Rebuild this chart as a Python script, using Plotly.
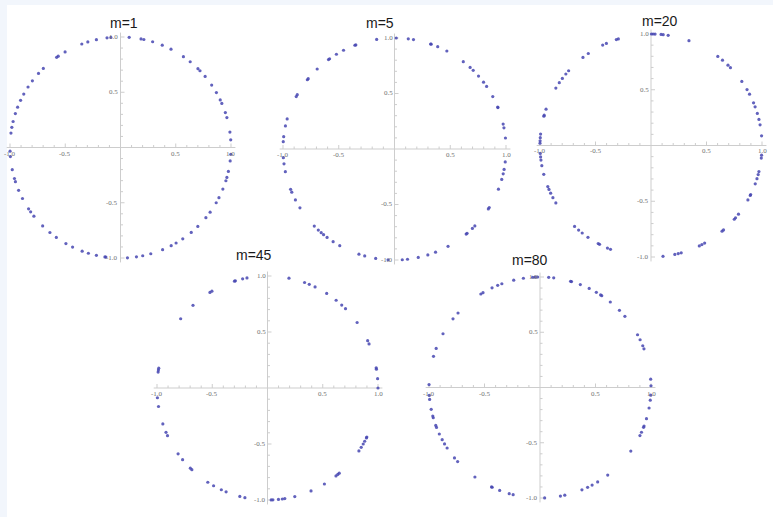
import math
import plotly.graph_objects as go

# ---------------- data (angles in degrees of each point on the unit circle)
TITLES = ["m=1", "m=5", "m=20", "m=45", "m=80"]

ANGLES_M1 = [4, 8, 15.7, 18.4, 23.5, 25.5, 29.8, 34.4, 40, 44, 45.5, 50.9, 55.3, 62.8,
             67.8, 73.1, 77.8, 79.3, 85.5, 95, 97, 102.6, 107.2, 110.5, 120.1, 124.3,
             125.3, 134.3, 137.9, 142.9, 146.8, 151.1, 154.7, 158.6, 162.1, 166.4, 169.5,
             172.5, 181.9, 184.7, 191.6, 196.3, 198, 202.8, 207.5, 213.7, 215.6, 218.4,
             225.2, 230.3, 234.5, 240.4, 244.3, 249.7, 253.1, 257.4, 261.9, 262.4, 273.6,
             278.3, 281.6, 285.9, 292.4, 297.3, 300.2, 304.3, 309.8, 314.4, 320.6, 324.2,
             330, 333, 337.9, 342.5, 344.3, 347.5, 353, 356.5]

ANGLES_M5 = [5.7, 11, 13, 21.9, 22.2, 28.2, 34.3, 37, 41.1, 45.1, 47.3, 51.9, 62, 67.2,
             70.8, 71.1, 80.2, 82.9, 89.1, 99.2, 110.3, 110.8, 117.2, 121.4, 125.6, 126.3,
             133.9, 140.7, 141.4, 150.7, 151.8, 164.3, 168, 173.6, 176.2, 184.5, 187.7,
             191.8, 201.3, 202.9, 207.3, 212, 224, 226.9, 228.9, 230.5, 232.8, 236.6,
             240.6, 251.4, 254.5, 260.3, 266.7, 274, 276.7, 282.3, 287.4, 291.6, 298.7,
             310, 310.6, 314.3, 316.1, 327.3, 328.2, 338.8, 344.1, 347.1, 349.4, 353.3]

ANGLES_M20 = [5, 10.7, 13.5, 16.7, 20.3, 22.5, 27.4, 30.1, 35.1, 44.3, 46.1, 49.9, 53, 70,
              81.1, 83.7, 84.8, 87.9, 88.9, 89.8, 107.1, 108.2, 113.7, 115.8, 124.4, 127.8,
              137.9, 140.1, 143, 145.7, 149, 161, 164.2, 164.8, 174.1, 176, 177.6, 178.8,
              184.1, 185.9, 187.5, 190.4, 195, 201.6, 203.2, 205.3, 207.9, 211, 226.5,
              229.3, 231.7, 235.4, 241.6, 242.4, 246.9, 248.6, 276.2, 282.4, 284.2, 285.8,
              295.8, 297.3, 298.9, 309.8, 310.8, 318.6, 319.6, 322, 330.8, 333.4, 333.9,
              339.9, 342.7, 344.9, 346.5, 353.5, 355]

ANGLES_M45 = [0, 4.8, 9.7, 10.4, 23.2, 25, 35.8, 45.1, 47.8, 51.6, 57.6, 64.5, 67.8, 70.4,
              78.8, 100.7, 103, 106.9, 107.4, 120.2, 121.4, 132.4, 141.8, 169.8, 170.8,
              171.8, 185, 189.5, 198.7, 203.3, 205.2, 216, 219.8, 225.7, 226.8, 237.3,
              240.8, 245.3, 248, 255.5, 258.2, 271.9, 272.8, 275.7, 277.7, 279, 284.3,
              293.2, 301, 308.3, 309.5, 310.5, 325.8, 328, 330, 331.6, 333.5, 334]

ANGLES_M80 = [0.9, 4.3, 20.5, 22.2, 25.6, 28.5, 40.1, 44.3, 50.7, 56.2, 56.9, 59.5, 63.7,
              68.7, 73.5, 74, 82.9, 85.5, 91.2, 92.6, 93.8, 98.6, 103.7, 110.1, 112.4,
              115.6, 120.9, 122.2, 137.6, 141.6, 150.9, 159.3, 163.6, 178.5, 184.1, 186.2,
              191.4, 195, 195.9, 200.1, 201.2, 204.9, 208.2, 210.7, 213.2, 219.6, 222.1,
              234.1, 244.1, 244.5, 248.7, 253.9, 256, 272.4, 280.6, 282.9, 292.2, 295.4,
              298, 301.3, 307.6, 324.9, 334.2, 336.1, 338.9, 339.6, 343.6, 349.3, 353.4, 356]

ALL_ANGLES = [ANGLES_M1, ANGLES_M5, ANGLES_M20, ANGLES_M45, ANGLES_M80]

TICK_MAJOR = [-1.0, -0.5, 0.5, 1.0]
TICK_LABELS = ["-1.0", "-0.5", "0.5", "1.0"]
TICK_MINOR = [-0.9, -0.8, -0.7, -0.6, -0.4, -0.3, -0.2, -0.1,
              0.1, 0.2, 0.3, 0.4, 0.6, 0.7, 0.8, 0.9]

# ---------------- layout geometry (pixels)
W, H = 773, 517
PANELS = [
    dict(ox=120.5, oy=147.5, sx=110.5, sy=110.5, tx=123.5, ty=22.5),
    dict(ox=394.5, oy=149.0, sx=111.5, sy=111.0, tx=379.5, ty=22.5),
    dict(ox=651.0, oy=145.5, sx=111.0, sy=111.5, tx=659.5, ty=21.5),
    dict(ox=267.5, oy=388.0, sx=110.5, sy=112.0, tx=254.0, ty=255),
    dict(ox=540.0, oy=387.5, sx=111.0, sy=110.5, tx=530.0, ty=259.5),
]
R = 1.06
DOT = "rgba(70,70,178,0.85)"
AXC = "#cdcdcd"
LBL = "#707070"

fig = go.Figure()
layout = dict(
    width=W, height=H, margin=dict(l=0, r=0, t=0, b=0),
    paper_bgcolor="#f2f6fc", plot_bgcolor="rgba(0,0,0,0)",
    showlegend=False,
)
shapes = [dict(type="rect", xref="paper", yref="paper", x0=7 / W, x1=1, y0=0, y1=1 - 5 / H,
               fillcolor="white", line=dict(width=0), layer="below")]
annotations = []

for i, (p, angs, title) in enumerate(zip(PANELS, ALL_ANGLES, TITLES)):
    n = "" if i == 0 else str(i + 1)
    xa, ya = "x" + n, "y" + n
    xd = [max(0, (p["ox"] - R * p["sx"]) / W), min(1, (p["ox"] + R * p["sx"]) / W)]
    yd = [max(0, 1 - (p["oy"] + R * p["sy"]) / H), min(1, 1 - (p["oy"] - R * p["sy"]) / H)]
    layout["xaxis" + n] = dict(domain=xd, range=[-R, R], visible=False, anchor=ya, fixedrange=True)
    layout["yaxis" + n] = dict(domain=yd, range=[-R, R], visible=False, anchor=xa, fixedrange=True)

    xs = [math.cos(math.radians(a)) for a in angs]
    ys = [math.sin(math.radians(a)) for a in angs]
    fig.add_trace(go.Scatter(x=xs, y=ys, mode="markers", xaxis=xa, yaxis=ya,
                             marker=dict(size=3.2, color=DOT, line=dict(width=0)),
                             hoverinfo="skip"))

    # axes through the origin
    shapes.append(dict(type="line", xref=xa, yref=ya, x0=-1.03, x1=1.04, y0=0, y1=0,
                       line=dict(color=AXC, width=1), layer="below"))
    shapes.append(dict(type="line", xref=xa, yref=ya, x0=0, x1=0, y0=-1.04, y1=1.04,
                       line=dict(color=AXC, width=1), layer="below"))
    # ticks
    for t, ln in [(t, 4.0) for t in TICK_MAJOR] + [(t, 2.5) for t in TICK_MINOR]:
        shapes.append(dict(type="line", xref=xa, yref=ya, x0=t, x1=t, y0=0, y1=ln / p["sy"],
                           line=dict(color=AXC, width=1), layer="below"))
        shapes.append(dict(type="line", xref=xa, yref=ya, x0=0, x1=ln / p["sx"], y0=t, y1=t,
                           line=dict(color=AXC, width=1), layer="below"))
    # tick labels
    for t, lab in zip(TICK_MAJOR, TICK_LABELS):
        annotations.append(dict(x=t, y=0, xref=xa, yref=ya, text=lab, showarrow=False,
                                xanchor="center", yanchor="top", yshift=-1, borderpad=0,
                                font=dict(family="Liberation Serif", size=7, color=LBL)))
        annotations.append(dict(x=0, y=t, xref=xa, yref=ya, text=lab, showarrow=False,
                                xanchor="right", yanchor="middle", xshift=-1, borderpad=0,
                                font=dict(family="Liberation Serif", size=7, color=LBL)))
    # title
    annotations.append(dict(x=p["tx"] / W, y=1 - p["ty"] / H, xref="paper", yref="paper",
                            text=title, showarrow=False, xanchor="center", yanchor="middle",
                            borderpad=0,
                            font=dict(family="Liberation Sans", size=14, color="#1a1a1a")))

layout["shapes"] = shapes
layout["annotations"] = annotations
fig.update_layout(**layout)
fig.write_html("out.html")
